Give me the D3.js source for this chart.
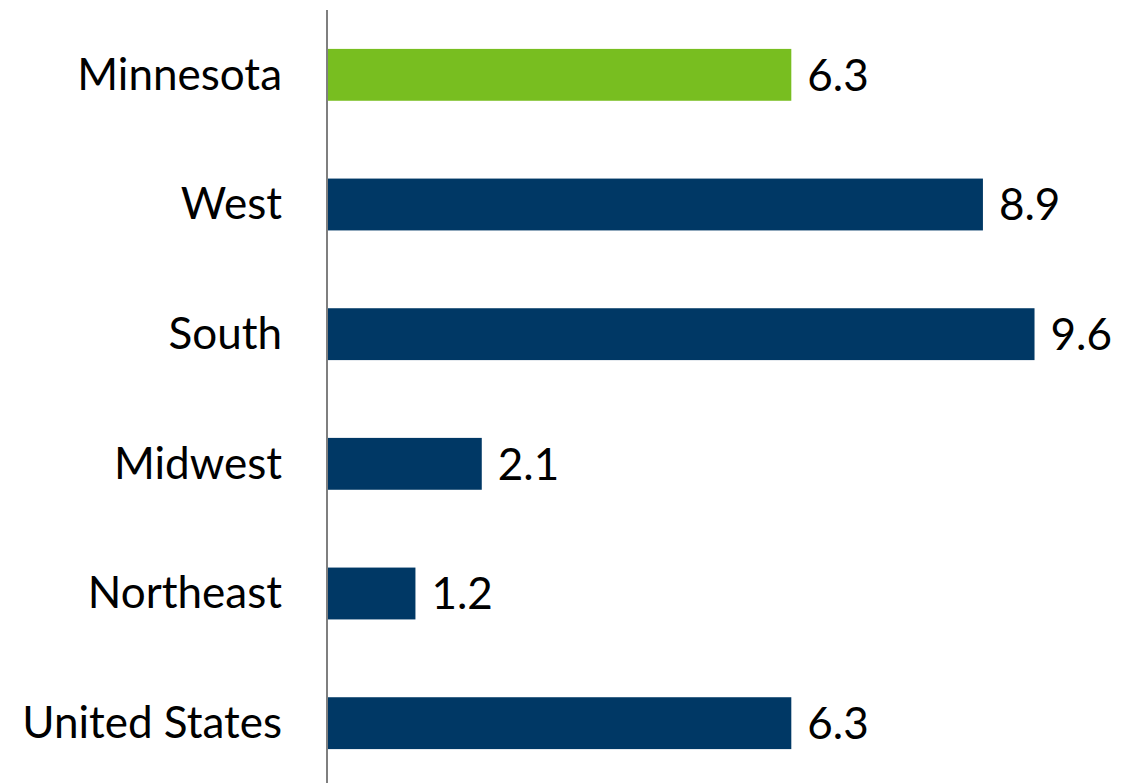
<!DOCTYPE html>
<html>
<head>
<meta charset="utf-8">
<script src="https://cdn.jsdelivr.net/npm/d3@7"></script>
<style>
  body { margin: 0; background: #fff; }
  text { font-family: Lato, "Open Sans", sans-serif; fill: #000; }
</style>
</head>
<body>
<div id="chart"></div>
<script>
// data
var regions = ["Minnesota", "West", "South", "Midwest", "Northeast", "United States"];
var values = [6.3, 8.9, 9.6, 2.1, 1.2, 6.3];
var barColors = ["#78be20", "#003865", "#003865", "#003865", "#003865", "#003865"];

var width = 1125;
var height = 783;
var axisX = 327;

var svg = d3
    .select("#chart")
    .append("svg")
    .attr("width", width)
    .attr("height", height);

var xRange = d3
    .scaleLinear()
    .domain([0, 10])
    .range([axisX, axisX + 737]);

var yRange = d3
    .scaleBand()
    .domain(regions)
    .range([10, 788])
    .paddingInner(0.6)
    .paddingOuter(0.3);

var rows = regions.map(function(r, i) {
    return { name: r, value: values[i], color: barColors[i] };
});

// bars
svg.selectAll("rect.bar")
    .data(rows)
    .enter()
    .append("rect")
    .attr("class", "bar")
    .attr("x", xRange(0))
    .attr("y", function(d) { return yRange(d.name); })
    .attr("width", function(d) { return xRange(d.value) - xRange(0); })
    .attr("height", yRange.bandwidth())
    .attr("fill", function(d) { return d.color; });

// value labels
svg.selectAll("text.val")
    .data(rows)
    .enter()
    .append("text")
    .attr("class", "val")
    .attr("x", function(d) { return xRange(d.value) + 16; })
    .attr("y", function(d) { return yRange(d.name) + yRange.bandwidth() / 2; })
    .attr("dy", "0.36em")
    .attr("font-size", 44)
    .text(function(d) { return d.value.toFixed(1); });

// category labels via axis
var yAxis = d3.axisLeft(yRange).tickSize(0).tickPadding(45);

var yG = svg.append("g")
    .attr("transform", "translate(" + axisX + ",0)")
    .call(yAxis);

yG.select(".domain").remove();
yG.selectAll("text")
    .attr("font-size", 44)
    .attr("font-family", null)
    .attr("dy", "0.34em");

// vertical axis line
svg.append("line")
    .attr("x1", axisX)
    .attr("x2", axisX)
    .attr("y1", 10)
    .attr("y2", height)
    .attr("stroke", "#7f7f7f")
    .attr("stroke-width", 2);
</script>
</body>
</html>
